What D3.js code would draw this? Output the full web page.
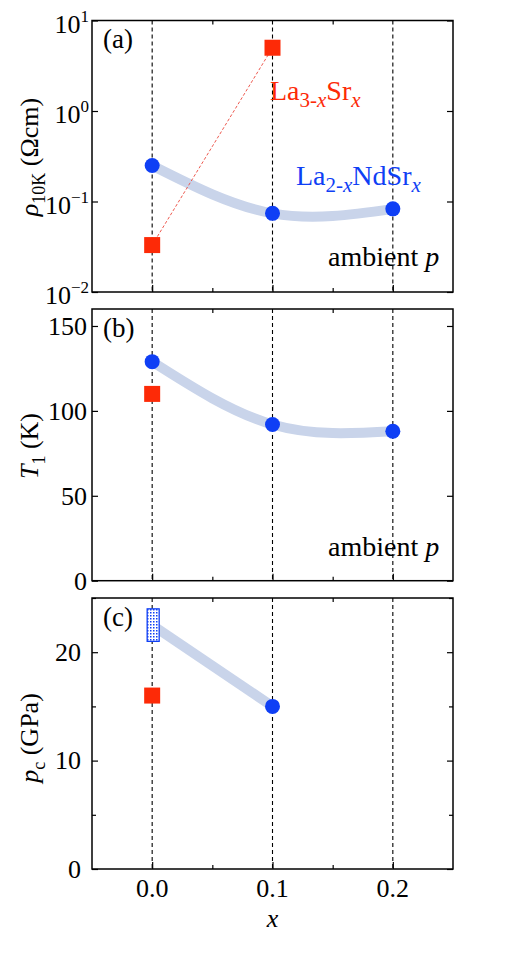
<!DOCTYPE html>
<html>
<head>
<meta charset="utf-8">
<script src="https://cdn.jsdelivr.net/npm/d3@7"></script>
<style>
  body { margin: 0; background: #fff; }
  svg text { font-family: "Liberation Serif", "Times New Roman", serif; }
</style>
</head>
<body>
<svg id="chart" width="519" height="979"></svg>
<script>
// ---- data ----
const xMajor = [0, 0.1, 0.2];
const xMinor = [0.05, 0.15];

// La(2-x)NdSr(x)
const xNd = [0, 0.1, 0.2];
const rhoNd = [0.25, 0.074, 0.083];
const t1Nd = [129, 92, 88];
const xPcNd = [0.1];
const pcNd = [15];
const pcNdRange = [21, 24];      // box at x = 0
const pcNdLine = [22.5, 15];     // guide line at x = 0, 0.1

// La(3-x)Sr(x)
const xLaSr = [0, 0.1];
const rhoLaSr = [0.033, 5.0];
const t1LaSr = [110];
const pcLaSr = [16];

const logTicks = [1e-2, 1e-1, 1e0, 1e1];
const t1Ticks = [0, 50, 100, 150];
const pcTicks = [0, 10, 20];
const pcMinor = [5, 15, 25];

const blue = '#0f3ff5', red = '#fd2a07', guide = '#c9d4ea';

const svg = d3.select('#chart');
const left = 92, right = 453;
const xscale = d3.scaleLinear().domain([-0.05, 0.25]).range([left, right]);

const defs = svg.append('defs');
const pat = defs.append('pattern')
    .attr('id', 'dots')
    .attr('width', 3).attr('height', 3)
    .attr('patternUnits', 'userSpaceOnUse');
pat.append('rect').attr('width', 3).attr('height', 3).attr('fill', '#fff');
pat.append('rect').attr('width', 1.5).attr('height', 1.5).attr('fill', blue);

function panel(top, bottom, yscale, majors, minors, labelDx) {
    yscale.range([bottom, top]);
    const g = svg.append('g');

    // dashed guides
    g.selectAll('.vline')
        .data(xMajor)
        .join('line')
        .attr('x1', d => xscale(d)).attr('x2', d => xscale(d))
        .attr('y1', top).attr('y2', bottom)
        .attr('stroke', '#000').attr('stroke-width', 1.1)
        .attr('stroke-dasharray', '4,3');

    const ax = (axis, tr, size, vals) => {
        const a = g.append('g').attr('transform', tr)
            .call(axis.tickValues(vals).tickSizeInner(size).tickSizeOuter(0).tickFormat(''));
        a.select('.domain').remove();
        a.selectAll('line').attr('stroke-width', 1.2);
        return a;
    };
    ax(d3.axisBottom(xscale), `translate(0,${bottom})`, -7, xMajor);
    ax(d3.axisBottom(xscale), `translate(0,${bottom})`, -4, xMinor);
    ax(d3.axisTop(xscale), `translate(0,${top})`, -4, xMinor);
    ax(d3.axisRight(yscale), `translate(${right},0)`, -6, majors);
    if (minors) {
        ax(d3.axisLeft(yscale), `translate(${left},0)`, -4, minors);
        ax(d3.axisRight(yscale), `translate(${right},0)`, -4, minors);
    }
    const yl = g.append('g').attr('transform', `translate(${left},0)`)
        .call(d3.axisLeft(yscale).tickValues(majors).tickSizeInner(-6).tickSizeOuter(0).tickPadding(labelDx));
    yl.select('.domain').remove();
    yl.selectAll('line').attr('stroke-width', 1.2);
    yl.selectAll('text').attr('font-size', 26).attr('fill', '#000')
        .attr('font-family', '"Liberation Serif", serif');

    g.append('rect')
        .attr('x', left).attr('y', top)
        .attr('width', right - left).attr('height', bottom - top)
        .attr('fill', 'none').attr('stroke', '#000').attr('stroke-width', 1.5);

    return { g, yl, top, bottom };
}

function tag(g, txt, y) {
    g.append('text').attr('x', 103).attr('y', y)
        .attr('font-size', 27).text(txt);
}

function ambient(g, y) {
    const t = g.append('text').attr('x', 328).attr('y', y).attr('font-size', 28);
    t.append('tspan').text('ambient ');
    t.append('tspan').attr('font-style', 'italic').text('p');
}

function ylabel(x, y, parts) {
    const t = svg.append('text')
        .attr('transform', `translate(${x},${y}) rotate(-90)`)
        .attr('text-anchor', 'middle').attr('font-size', 26);
    parts.forEach(p => {
        t.append('tspan')
            .attr('font-style', p.i ? 'italic' : null)
            .attr('font-size', p.s || 26)
            .attr('dy', p.dy || 0)
            .text(p.t);
    });
}

function formula(g, x, y, color, parts) {
    const t = g.append('text').attr('x', x).attr('y', y).attr('font-size', 28).attr('fill', color);
    parts.forEach(p => {
        t.append('tspan')
            .attr('font-style', p.i ? 'italic' : null)
            .attr('font-size', p.s || 28)
            .attr('dy', p.dy || 0)
            .text(p.t);
    });
}

function squares(g, xs, ys, ysc) {
    g.selectAll(null).data(xs).join('rect')
        .attr('x', d => xscale(d) - 8)
        .attr('y', (d, i) => ysc(ys[i]) - 8)
        .attr('width', 16).attr('height', 16)
        .attr('fill', red);
}
function circles(g, xs, ys, ysc) {
    g.selectAll(null).data(xs).join('circle')
        .attr('cx', d => xscale(d))
        .attr('cy', (d, i) => ysc(ys[i]))
        .attr('r', 7.5)
        .attr('fill', blue);
}
function guideCurve(g, xs, ys, ysc, curve) {
    const line = d3.line().x(d => xscale(d[0])).y(d => ysc(d[1])).curve(curve);
    g.append('path')
        .attr('d', line(xs.map((x, i) => [x, ys[i]])))
        .attr('fill', 'none').attr('stroke', guide).attr('stroke-width', 10);
}

// ---- (a) ----
const ya = d3.scaleLog().domain([1e-2, 1e1]);
const pa = panel(20.5, 292, ya, logTicks, null, 8);
pa.yl.selectAll('text').each(function(d) {
    const t = d3.select(this).text('');
    const e = Math.round(Math.log10(d));
    t.attr('dy', '0.45em');
    t.append('tspan').text('10');
    t.append('tspan').attr('font-size', 17).attr('dy', -11)
        .text(e < 0 ? '\u2212' + (-e) : e);
});
pa.yl.selectAll('text').attr('x', -3);
guideCurve(pa.g, xNd, rhoNd.map(Math.log10), v => ya(Math.pow(10, v)), d3.curveNatural);
pa.g.append('line')
    .attr('x1', xscale(xLaSr[0])).attr('y1', ya(rhoLaSr[0]))
    .attr('x2', xscale(xLaSr[1])).attr('y2', ya(rhoLaSr[1]))
    .attr('stroke', '#ee5a50').attr('stroke-width', 1).attr('stroke-dasharray', '3,2');
squares(pa.g, xLaSr, rhoLaSr, ya);
circles(pa.g, xNd, rhoNd, ya);
tag(pa.g, '(a)', 48);
ambient(pa.g, 266);

formula(pa.g, 270, 100, red, [
    { t: 'La' },
    { t: '3-', s: 21, dy: 7 },
    { t: 'x', s: 21, i: true },
    { t: 'Sr', dy: -7 },
    { t: 'x', s: 21, i: true, dy: 7 }
]);
formula(pa.g, 296, 185, blue, [
    { t: 'La' },
    { t: '2-', s: 21, dy: 7 },
    { t: 'x', s: 21, i: true },
    { t: 'NdSr', dy: -7 },
    { t: 'x', s: 21, i: true, dy: 7 }
]);

// ---- (b) ----
const yb = d3.scaleLinear().domain([0, 160]);
const pb = panel(309, 580.7, yb, t1Ticks, null, 5);
guideCurve(pb.g, xNd, t1Nd, yb, d3.curveNatural);
squares(pb.g, [0], t1LaSr, yb);
circles(pb.g, xNd, t1Nd, yb);
tag(pb.g, '(b)', 337);
ambient(pb.g, 556);

// ---- (c) ----
const yc = d3.scaleLinear().domain([0, 25]);
const pc = panel(598, 869, yc, pcTicks, pcMinor, 11);
guideCurve(pc.g, [0, 0.1], pcNdLine, yc, d3.curveLinear);
pc.g.append('rect')
    .attr('x', xscale(0) - 5).attr('y', yc(pcNdRange[1]))
    .attr('width', 12).attr('height', yc(pcNdRange[0]) - yc(pcNdRange[1]))
    .attr('fill', 'url(#dots)').attr('stroke', blue).attr('stroke-width', 1.3);
squares(pc.g, [0], pcLaSr, yc);
circles(pc.g, xPcNd, pcNd, yc);
tag(pc.g, '(c)', 626);

// x tick labels + label
svg.append('g').selectAll('text').data(xMajor).join('text')
    .attr('x', d => xscale(d)).attr('y', 897)
    .attr('text-anchor', 'middle').attr('font-size', 26)
    .text(d => d3.format('.1f')(d));
svg.append('text').attr('x', xscale(0.1)).attr('y', 927)
    .attr('text-anchor', 'middle').attr('font-size', 26).attr('font-style', 'italic').text('x');

// y labels
ylabel(38, 157, [
    { t: '\u03c1', i: true },
    { t: '10K', s: 18, dy: 7 },
    { t: ' (\u03a9cm)', dy: -7 }
]);
ylabel(38, 446, [
    { t: 'T', i: true },
    { t: '1', s: 18, dy: 7 },
    { t: ' (K)', dy: -7 }
]);
ylabel(38, 738, [
    { t: 'p', i: true },
    { t: 'c', s: 18, dy: 7 },
    { t: ' (GPa)', dy: -7 }
]);
</script>
</body>
</html>
